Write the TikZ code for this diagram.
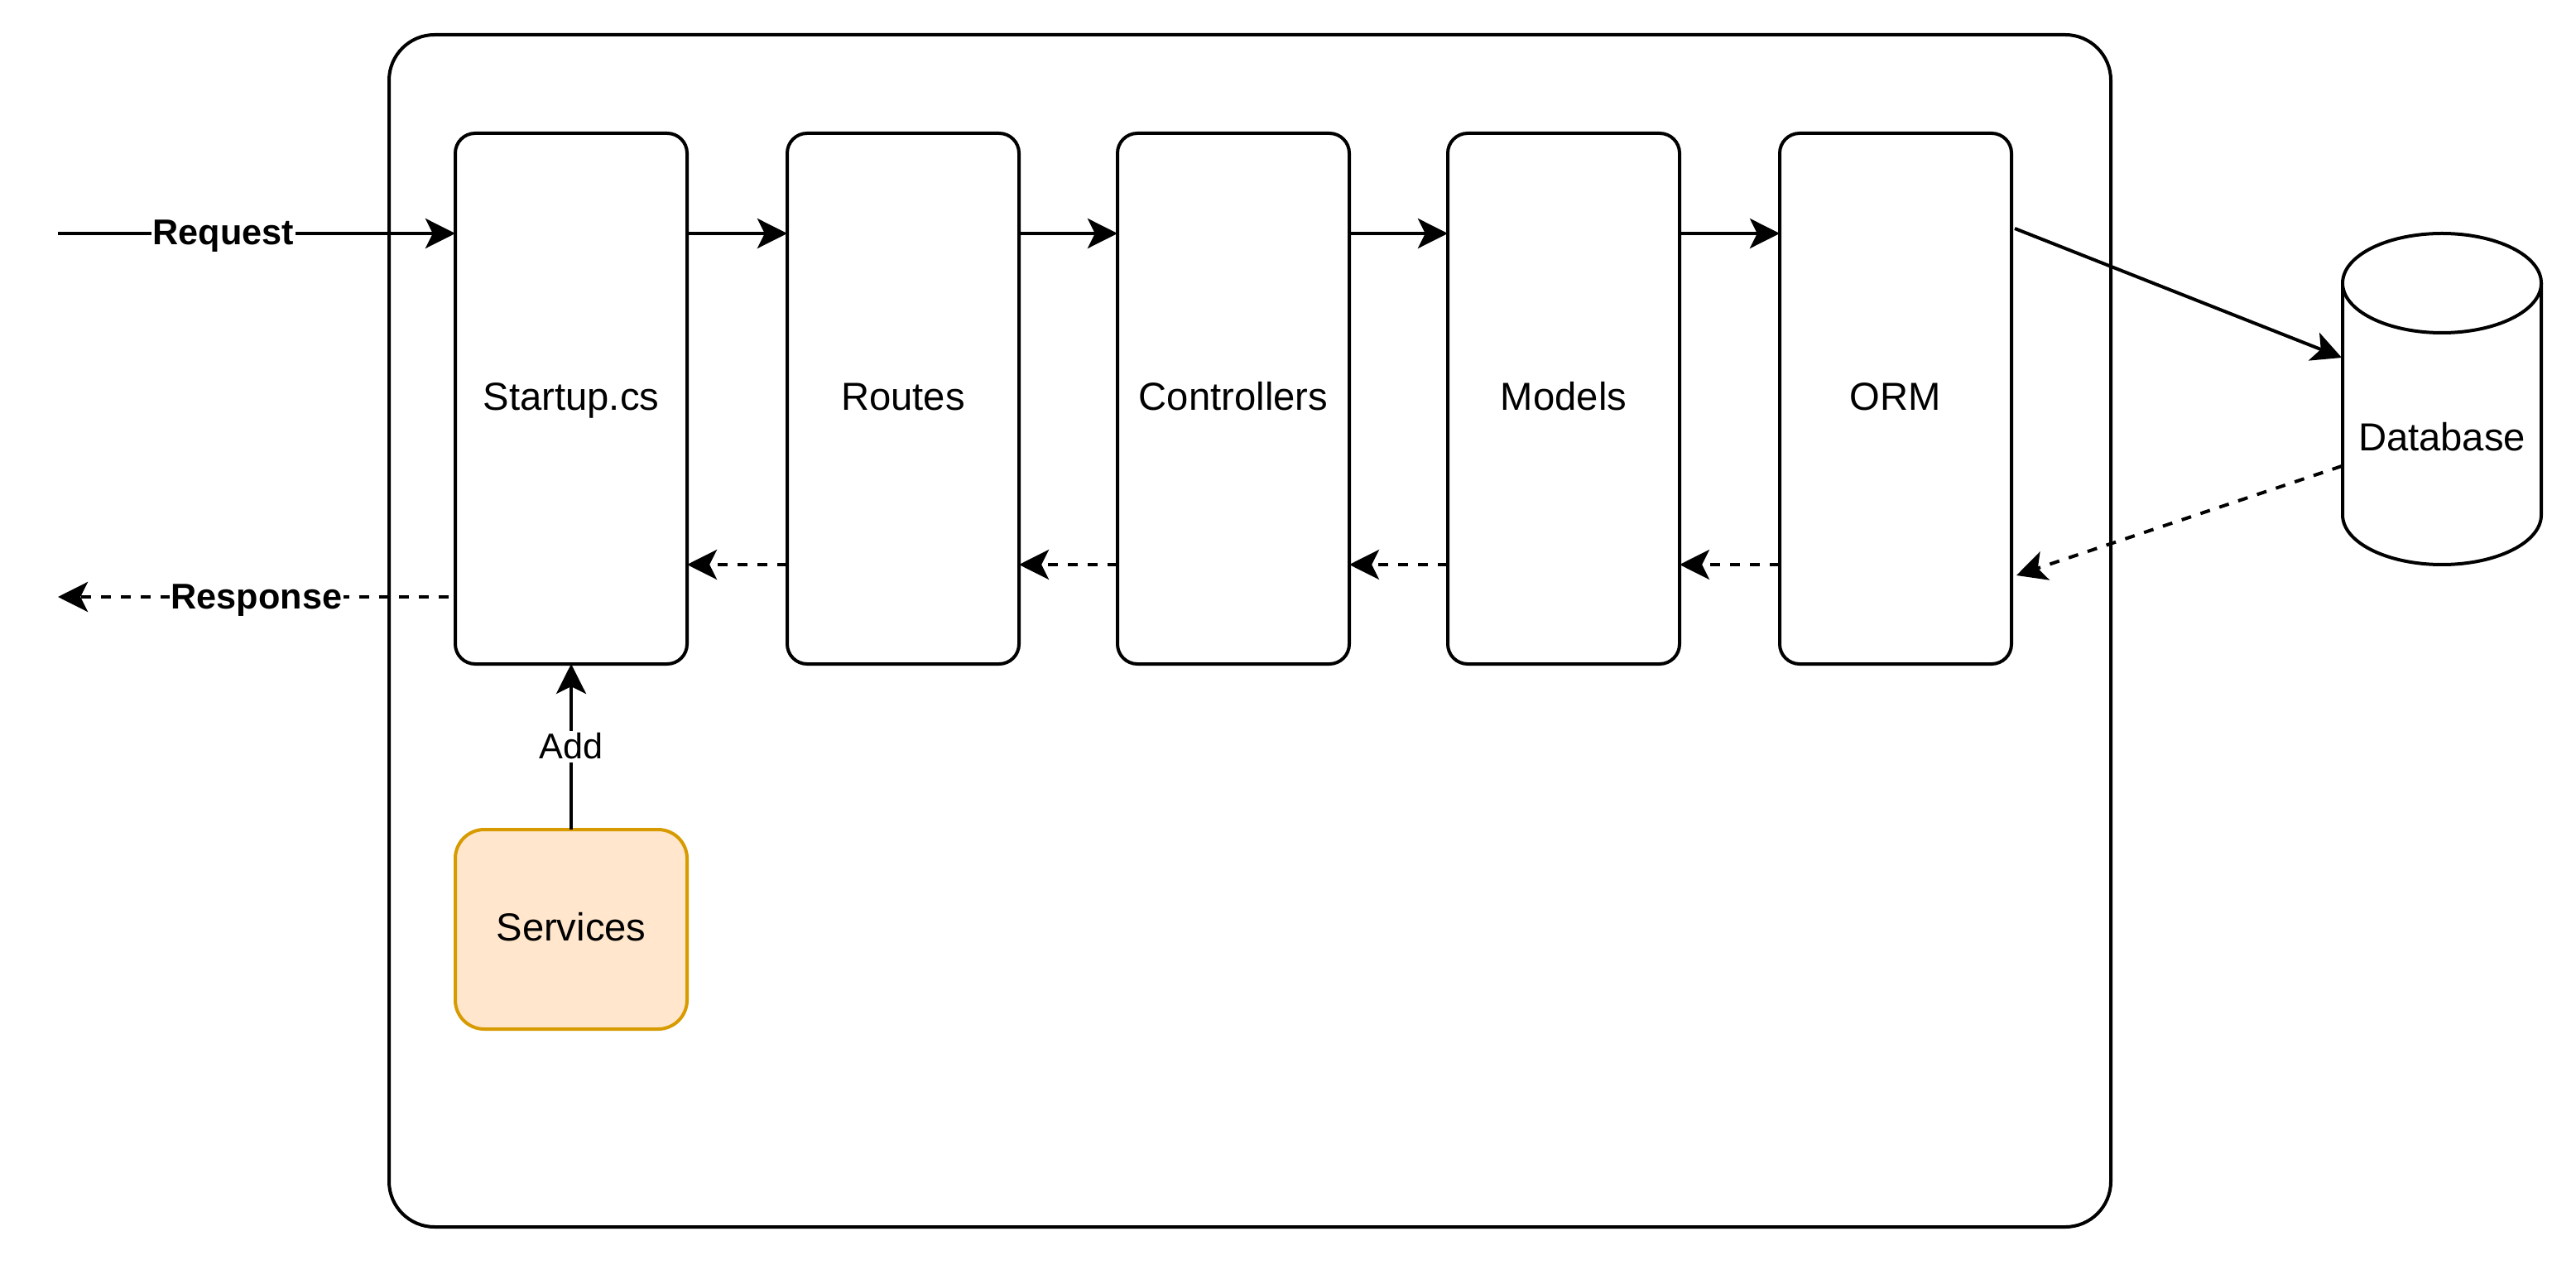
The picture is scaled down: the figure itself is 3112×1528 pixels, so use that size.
\documentclass[tikz,border=0pt]{standalone}
\usepackage{fontspec}
\setmainfont{Liberation Sans}
\usetikzlibrary{arrows.meta,calc}
\begin{document}
\begin{tikzpicture}[x=0.25pt,y=-0.25pt,
  txt/.style={text height=0.72em, text depth=0.02em},
  layerbox/.style={draw=black, line width=1pt, rounded corners=6pt, fill=white,
    minimum width=70pt, minimum height=160.25pt, inner sep=0pt, outer sep=0pt,
    font=\fontsize{11.8}{14}\selectfont, txt},
  svcbox/.style={draw=svcstroke, fill=svcfill, line width=1pt, rounded corners=8.75pt,
    minimum width=70pt, minimum height=60.25pt, inner sep=0pt, outer sep=0pt,
    font=\fontsize{11.8}{14}\selectfont, txt},
  conn/.style={line width=1pt, -{Stealth[length=9pt,width=9pt,inset=2.2pt]}},
  back/.style={conn, dash pattern=on 3pt off 3pt},
  elabel/.style={fill=white, inner sep=0.5pt, font=\fontsize{10.8}{13}\selectfont\bfseries, txt},
  alabel/.style={fill=white, inner sep=1pt, font=\fontsize{10.8}{13}\selectfont, txt},
  plain/.style={font=\fontsize{11.8}{14}\selectfont, inner sep=0pt, txt}
]
\definecolor{svcfill}{HTML}{FFE6CC}
\definecolor{svcstroke}{HTML}{D79B00}
\useasboundingbox (0,0) rectangle (3112,1528);
\fill[white] (0,0) rectangle (3112,1528);

% outer container
\draw[line width=1pt, rounded corners=13.75pt] (470,42) rectangle (2550,1482);

% layer boxes
\node[layerbox] (startup) at (690,481.5) {Startup.cs};
\node[layerbox] (routes) at (1091,481.5) {Routes};
\node[layerbox] (ctrl) at (1490,481.5) {Controllers};
\node[layerbox] (models) at (1889,481.5) {Models};
\node[layerbox] (orm) at (2290,481.5) {ORM};
\node[svcbox] (svc) at (690,1122.5) {Services};

% database cylinder
\node[minimum width=60pt, minimum height=100pt, inner sep=0pt, outer sep=0pt] (db) at (2950,482) {};
\draw[line width=1pt, fill=white] (2830,342) -- (2830,622)
   arc[start angle=180, end angle=360, x radius=30pt, y radius=15pt] -- (3070,342);
\draw[line width=1pt, fill=white] (2950,342) ellipse [x radius=30pt, y radius=15pt];
\node[plain] (dbtext) at (2950,531) {Database};

% helper coordinates
\coordinate (yf) at (0,282);
\coordinate (yb) at (0,682);
\coordinate (yr) at (0,721);
\coordinate (reqstart) at (70,282);
\coordinate (respend) at (70,721);
\coordinate (ormout) at (2434,276);
\coordinate (dbin) at (2829,432);
\coordinate (dbout) at (2829,563);
\coordinate (ormin) at (2436,695);

% request / response
\draw[conn] (reqstart) -- (startup.west |- yf);
\node[elabel] (reqlbl) at (270,282) {Request};
\draw[back] ([xshift=-2pt]startup.west |- yr) -- (respend);
\node[elabel] (resplbl) at (310,721) {Response};

% forward flow
\draw[conn] (startup.east |- yf) -- (routes.west |- yf);
\draw[conn] (routes.east |- yf) -- (ctrl.west |- yf);
\draw[conn] (ctrl.east |- yf) -- (models.west |- yf);
\draw[conn] (models.east |- yf) -- (orm.west |- yf);
\draw[conn] (ormout) -- (dbin);

% backward flow
\draw[back] (dbout) -- (ormin);
\draw[back] (orm.west |- yb) -- (models.east |- yb);
\draw[back] (models.west |- yb) -- (ctrl.east |- yb);
\draw[back] (ctrl.west |- yb) -- (routes.east |- yb);
\draw[back] (routes.west |- yb) -- (startup.east |- yb);

% services
\draw[conn] (svc.north) -- node[alabel] (addlbl) {Add} (startup.south);
\end{tikzpicture}
\end{document}
